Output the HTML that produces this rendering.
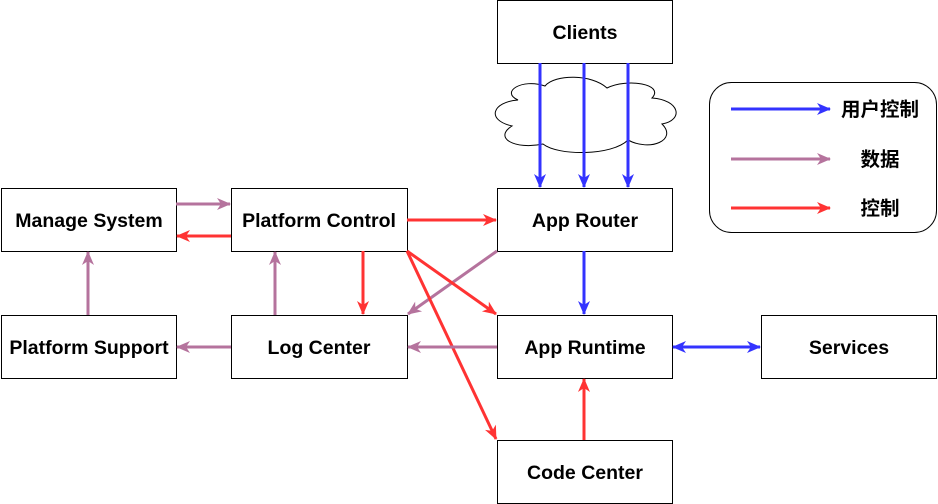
<!DOCTYPE html>
<html><head><meta charset="utf-8"><style>
html,body{margin:0;padding:0;background:#fff;}
svg{display:block;}
text{font-family:"Liberation Sans","Noto Sans CJK SC",sans-serif;font-weight:bold;font-size:19.5px;fill:#000;}
</style></head><body>
<svg width="938" height="504" viewBox="0 0 938 504" xmlns="http://www.w3.org/2000/svg">
<defs>
<marker id="mb" markerWidth="14" markerHeight="14" refX="13" refY="7" orient="auto" markerUnits="userSpaceOnUse" viewBox="0 0 14 14"><path d="M0,1 L14,7 L0,13 L4,7 Z" fill="#3333ff"/></marker>
<marker id="mp" markerWidth="14" markerHeight="14" refX="13" refY="7" orient="auto" markerUnits="userSpaceOnUse" viewBox="0 0 14 14"><path d="M0,1 L14,7 L0,13 L4,7 Z" fill="#b5739d"/></marker>
<marker id="mr" markerWidth="14" markerHeight="14" refX="13" refY="7" orient="auto" markerUnits="userSpaceOnUse" viewBox="0 0 14 14"><path d="M0,1 L14,7 L0,13 L4,7 Z" fill="#ff3333"/></marker>
<marker id="mbs" markerWidth="14" markerHeight="14" refX="1" refY="7" orient="auto" markerUnits="userSpaceOnUse" viewBox="0 0 14 14"><path d="M14,1 L0,7 L14,13 L10,7 Z" fill="#3333ff"/></marker>
</defs>
<path d="M518,100 C500,92 522,78 545,86 C555,74 592,74 607,88 C627,78 665,84 652,98 C680,100 684,120 662,124 C678,140 650,152 628,140 C612,156 558,156 543,144 C515,150 493,138 512,126 C486,120 492,102 518,100 Z" fill="#fff" stroke="#000" stroke-width="1"/>
<g fill="#fff" stroke="#000" stroke-width="1">
<rect x="497.5" y="0.5" width="175" height="63"/>
<rect x="497.5" y="188.5" width="175" height="63"/>
<rect x="231.5" y="188.5" width="176" height="63"/>
<rect x="1.5" y="188.5" width="175" height="63"/>
<rect x="1.5" y="315.5" width="175" height="63"/>
<rect x="231.5" y="315.5" width="176" height="63"/>
<rect x="497.5" y="315.5" width="175" height="63"/>
<rect x="761.5" y="315.5" width="175" height="63"/>
<rect x="497.5" y="440.5" width="175" height="63"/>
<rect x="709.5" y="82.5" width="227" height="150" rx="22"/>
</g>
<g stroke-width="3" fill="none">
<line x1="540" y1="63" x2="540" y2="187" stroke="#3333ff" marker-end="url(#mb)"/>
<line x1="584" y1="63" x2="584" y2="187" stroke="#3333ff" marker-end="url(#mb)"/>
<line x1="628" y1="63" x2="628" y2="187" stroke="#3333ff" marker-end="url(#mb)"/>
<line x1="176" y1="204" x2="230" y2="204" stroke="#b5739d" marker-end="url(#mp)"/>
<line x1="231" y1="236" x2="177" y2="236" stroke="#ff3333" marker-end="url(#mr)"/>
<line x1="407" y1="220" x2="496" y2="220" stroke="#ff3333" marker-end="url(#mr)"/>
<line x1="363" y1="251" x2="363" y2="314" stroke="#ff3333" marker-end="url(#mr)"/>
<line x1="275" y1="315" x2="275" y2="252" stroke="#b5739d" marker-end="url(#mp)"/>
<line x1="497" y1="251" x2="408" y2="314" stroke="#b5739d" marker-end="url(#mp)"/>
<line x1="407" y1="251" x2="496" y2="314" stroke="#ff3333" marker-end="url(#mr)"/>
<line x1="407" y1="251" x2="496" y2="439" stroke="#ff3333" marker-end="url(#mr)"/>
<line x1="584" y1="251" x2="584" y2="314" stroke="#3333ff" marker-end="url(#mb)"/>
<line x1="497" y1="347" x2="408" y2="347" stroke="#b5739d" marker-end="url(#mp)"/>
<line x1="231" y1="347" x2="177" y2="347" stroke="#b5739d" marker-end="url(#mp)"/>
<line x1="88" y1="315" x2="88" y2="252" stroke="#b5739d" marker-end="url(#mp)"/>
<line x1="673" y1="347" x2="760" y2="347" stroke="#3333ff" marker-end="url(#mb)" marker-start="url(#mbs)"/>
<line x1="584" y1="440" x2="584" y2="379" stroke="#ff3333" marker-end="url(#mr)"/>
<line x1="731" y1="109" x2="830" y2="109" stroke="#3333ff" marker-end="url(#mb)"/>
<line x1="731" y1="159" x2="830" y2="159" stroke="#b5739d" marker-end="url(#mp)"/>
<line x1="731" y1="208" x2="830" y2="208" stroke="#ff3333" marker-end="url(#mr)"/>
</g>
<g text-anchor="middle">
<text x="585" y="39">Clients</text>
<text x="585" y="227">App Router</text>
<text x="319" y="227">Platform Control</text>
<text x="89" y="227">Manage System</text>
<text x="89" y="354">Platform Support</text>
<text x="319" y="354">Log Center</text>
<text x="585" y="354">App Runtime</text>
<text x="849" y="354">Services</text>
<text x="585" y="479">Code Center</text>
<text x="880" y="116" font-size="18">用户控制</text>
<text x="880" y="166" font-size="18">数据</text>
<text x="880" y="215" font-size="18">控制</text>
</g>
</svg>
</body></html>
